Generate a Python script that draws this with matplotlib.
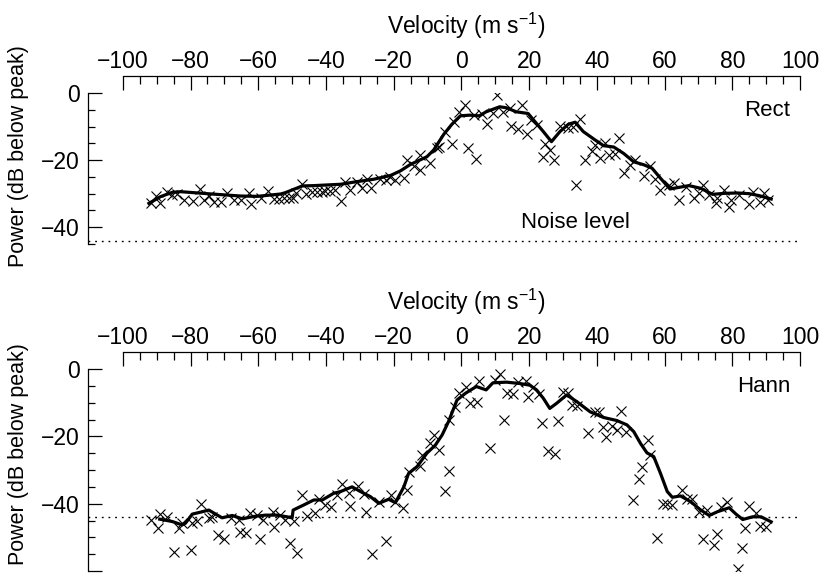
import numpy as np
import matplotlib
matplotlib.use("Agg")
import matplotlib.pyplot as plt
from matplotlib.ticker import FixedLocator

plt.rcParams['font.family'] = ['Liberation Sans', 'DejaVu Sans']
plt.rcParams['mathtext.default'] = 'regular'
plt.rcParams['font.size'] = 16.5

# noise floor (dB below peak)
noise_level = -44

# ---- Rect window: measured points
rect_v = [-91.8, -90.3, -88.9, -86.9, -85.4, -83.9, -82.0, -79.2, -77.2, -76.1,
          -74.6, -73.1, -71.1, -69.2, -67.2, -65.2, -62.8, -62.0, -59.3, -57.2,
          -55.4, -53.9, -52.5, -51.0, -49.7, -49.0, -47.0, -45.8, -44.1, -42.6,
          -41.1, -40.2, -38.7, -37.2, -35.7, -34.3, -32.8, -30.8, -29.5, -27.9,
          -26.6, -23.9, -22.4, -21.0, -19.5, -17.0, -16.1, -14.1, -12.3, -12.1,
          -9.2, -7.3, -6.7, -4.7, -2.8, -2.3, -0.8, 1.0, 2.0, 3.7,
          4.2, 6.0, 7.7, 9.4, 10.4, 12.3, 14.3, 14.6, 16.6, 17.8,
          19.4, 20.7, 22.2, 24.0, 24.7, 26.1, 27.3, 29.1, 31.6, 32.9,
          33.9, 35.0, 36.5, 38.5, 39.5, 41.0, 42.5, 43.5, 45.4, 46.4,
          47.9, 49.9, 51.4, 53.9, 55.8, 57.3, 58.8, 61.3, 62.8, 64.3,
          66.2, 68.7, 70.2, 71.5, 73.2, 75.1, 75.6, 77.6, 79.1, 79.6,
          82.1, 84.8, 86.0, 88.3, 89.3, 90.5]
rect_p = [-32.9, -30.7, -32.9, -29.6, -30.4, -30.2, -31.9, -32.2, -28.6, -31.9,
          -30.7, -32.6, -32.6, -29.9, -31.9, -31.9, -29.9, -33.2, -31.4, -29.2,
          -31.6, -31.6, -31.4, -31.4, -31.4, -29.9, -27.2, -30.2, -29.4, -29.4,
          -29.6, -29.2, -29.2, -28.9, -32.1, -26.6, -28.9, -26.4, -28.4, -25.6,
          -28.4, -25.6, -25.9, -24.9, -25.9, -25.4, -20.0, -21.9, -22.9, -18.5,
          -21.0, -16.5, -16.0, -11.5, -15.3, -8.5, -5.6, -3.6, -16.5, -6.6,
          -19.8, -6.4, -9.3, -6.1, -0.5, -5.6, -4.6, -9.7, -10.8, -3.6,
          -12.2, -8.0, -9.5, -19.0, -15.3, -17.0, -20.0, -9.7, -10.5, -10.0,
          -27.4, -7.7, -20.0, -17.3, -15.5, -19.5, -15.0, -18.5, -18.3, -13.5,
          -23.9, -21.6, -20.0, -24.6, -21.9, -25.7, -28.9, -27.4, -26.9, -31.9,
          -27.9, -31.4, -29.9, -27.4, -30.4, -32.9, -31.4, -28.9, -33.9, -31.9,
          -30.4, -33.2, -29.6, -32.4, -29.9, -31.9]

# ---- Rect window: smoothed curve
rect_line_v = [-92.3, -88.9, -85.4, -83.0, -75.1, -65.2, -60.3, -53.4, -52.0, -47.0,
               -43.6, -35.7, -30.8, -25.9, -21.0, -18.0, -15.1, -10.2, -8.2, -5.2,
               -2.8, -0.3, 2.4, 5.3, 7.3, 11.3, 13.3, 16.2, 19.7, 21.7,
               24.2, 26.6, 29.1, 31.6, 33.6, 36.0, 39.5, 42.0, 45.0, 47.9,
               50.9, 53.9, 56.3, 58.8, 61.6, 63.8, 67.2, 70.7, 74.2, 77.6,
               81.6, 85.0, 88.0, 91.5]
rect_line_p = [-32.9, -30.9, -29.6, -29.4, -30.0, -30.7, -30.8, -30.1, -29.7, -27.7,
               -27.6, -27.2, -26.4, -25.7, -24.6, -23.2, -21.3, -19.0, -17.0, -12.3,
               -9.3, -6.8, -6.6, -6.8, -5.6, -4.1, -4.4, -5.6, -6.1, -8.5,
               -11.5, -14.5, -11.5, -9.3, -8.7, -11.5, -14.0, -15.7, -16.1, -18.0,
               -20.5, -21.4, -22.4, -25.4, -28.6, -28.2, -27.6, -28.4, -30.2, -29.9,
               -29.8, -30.0, -30.6, -31.6]

# ---- Hann window: measured points
hann_v = [-91.8, -89.6, -89.1, -86.9, -84.9, -83.4, -82.5, -80.0, -79.5, -78.0,
          -77.0, -74.6, -73.6, -71.9, -70.2, -68.2, -65.7, -65.4, -63.5, -62.3,
          -60.3, -59.5, -58.6, -55.6, -55.4, -53.6, -52.0, -50.7, -49.3, -48.7,
          -47.0, -45.6, -43.1, -42.1, -40.2, -38.5, -36.7, -35.4, -33.3, -32.8,
          -30.6, -28.8, -28.1, -26.4, -24.4, -22.4, -20.8, -19.5, -17.2, -16.1,
          -15.6, -12.3, -11.6, -9.4, -8.2, -6.7, -4.7, -3.8, -3.8, -1.8,
          -0.8, 1.5, 2.5, 4.5, 5.2, 8.4, 9.9, 11.4, 12.6, 13.4,
          15.1, 16.8, 19.1, 19.7, 21.2, 23.0, 23.7, 25.6, 27.6, 28.4,
          30.1, 31.6, 32.7, 34.2, 37.5, 39.5, 40.5, 41.8, 42.8, 44.5,
          45.9, 47.2, 48.7, 50.7, 52.4, 53.4, 55.1, 55.8, 57.8, 59.6,
          60.8, 62.3, 65.2, 66.5, 68.0, 70.2, 71.5, 72.5, 74.5, 75.6,
          76.6, 78.4, 81.6, 82.9, 83.8, 85.0, 87.0, 88.3, 90.0]
hann_p = [-44.9, -47.3, -43.1, -43.9, -54.3, -47.3, -45.6, -53.8, -45.6, -45.0,
          -40.1, -44.2, -44.1, -49.3, -50.6, -44.4, -44.7, -48.5, -48.8, -42.9,
          -43.4, -50.5, -44.9, -42.4, -46.8, -43.4, -44.7, -51.6, -45.0, -54.5,
          -37.4, -43.6, -42.7, -38.7, -40.4, -40.9, -37.4, -34.2, -36.9, -40.6,
          -34.7, -37.2, -42.6, -54.8, -39.4, -51.0, -37.4, -39.4, -41.2, -35.9,
          -30.5, -28.8, -25.5, -22.1, -19.6, -24.1, -36.1, -30.2, -15.1, -11.2,
          -7.0, -5.2, -10.2, -9.7, -3.5, -23.6, -3.3, -1.6, -15.1, -7.0,
          -7.5, -3.8, -3.5, -8.2, -5.2, -7.4, -15.9, -24.3, -25.2, -15.4,
          -6.7, -7.0, -10.7, -11.0, -19.1, -12.9, -12.9, -17.1, -20.3, -16.9,
          -18.1, -12.5, -18.6, -38.9, -32.8, -29.2, -21.1, -25.5, -50.1, -40.1,
          -40.1, -40.4, -35.9, -38.7, -38.7, -42.4, -50.6, -41.9, -52.3, -49.0,
          -40.9, -39.4, -59.5, -53.3, -47.3, -40.7, -42.9, -46.5, -47.0]

# ---- Hann window: smoothed curve
hann_line_v = [-89.1, -85.4, -82.5, -81.5, -79.5, -77.0, -74.6, -72.6, -70.7, -67.7,
               -64.7, -61.3, -57.9, -54.4, -51.5, -50.0, -49.7, -46.6, -43.6, -41.1,
               -37.7, -35.7, -32.3, -29.8, -26.9, -24.4, -21.5, -19.5, -17.0, -15.6,
               -13.1, -10.2, -7.7, -5.7, -3.8, -1.3, 1.2, 4.4, 7.3, 9.3,
               13.3, 17.2, 20.2, 22.2, 24.2, 26.1, 28.1, 31.1, 34.1, 38.0,
               42.0, 45.9, 48.9, 50.9, 52.9, 54.8, 56.8, 58.8, 60.8, 62.3,
               64.7, 67.7, 70.7, 73.2, 75.6, 79.1, 81.1, 83.1, 86.0, 88.5,
               91.5]
hann_line_p = [-44.6, -45.3, -46.3, -45.8, -43.1, -42.5, -41.9, -43.1, -44.2, -43.5,
               -44.5, -43.8, -43.4, -43.4, -43.9, -44.2, -41.9, -40.4, -38.9, -38.9,
               -36.9, -36.4, -35.0, -36.4, -37.9, -39.9, -38.7, -39.7, -35.0, -31.0,
               -29.0, -25.0, -22.6, -19.6, -15.6, -9.2, -7.2, -5.2, -6.2, -4.1,
               -3.9, -4.3, -4.8, -6.2, -8.7, -11.7, -10.2, -7.7, -9.7, -12.7,
               -14.4, -15.3, -16.6, -18.6, -22.1, -24.9, -26.0, -31.0, -36.4, -38.1,
               -37.7, -39.4, -41.9, -43.5, -42.4, -41.2, -43.1, -44.7, -43.9, -43.9,
               -45.4]

vel_ticks = np.arange(-100, 101, 20)
vel_minor = np.arange(-100, 101, 5)

fig = plt.figure(figsize=(8.26, 5.85), dpi=100)
ax1 = fig.add_axes([0.1065, 0.5829, 0.8620, 0.2581])
ax2 = fig.add_axes([0.1065, 0.0239, 0.8620, 0.3453])

panels = [
    (ax1, rect_v, rect_p, rect_line_v, rect_line_p, 'Rect', (-45, 0),
     [0, -20, -40], ['0', '\u221220', '\u221240'], 0.885, 0.585),
    (ax2, hann_v, hann_p, hann_line_v, hann_line_p, 'Hann', (-60, 0),
     [0, -20, -40, -60], ['0', '\u221220', '\u221240', ''], 0.915, 0.58),
]

for ax, v, p, lv, lp, name, ylim, yt, ytl, name_y, lab_y in panels:
    ax.plot(v, p, 'x', color='k', ms=6.5, mew=0.8)
    ax.plot(lv, lp, '-', color='k', lw=2.3, solid_joinstyle='round')
    ax.axhline(noise_level, color='k', lw=1.0, ls=(0, (1.3, 3.5)))

    ax.set_xlim(-110.3, 100)
    ax.set_ylim(*ylim)

    for s in ['right', 'bottom']:
        ax.spines[s].set_visible(False)
    ax.spines['top'].set_position(('outward', 12.6))
    ax.spines['top'].set_bounds(-100, 100)
    ax.spines['top'].set_linewidth(0.9)
    ax.spines['left'].set_linewidth(0.9)

    ax.xaxis.tick_top()
    ax.xaxis.set_label_position('top')
    ax.set_xticks(vel_ticks)
    ax.set_xticklabels([('\u2212%d' % -t) if t < 0 else '%d' % t for t in vel_ticks])
    ax.xaxis.set_minor_locator(FixedLocator(vel_minor))
    ax.set_yticks(yt)
    ax.set_yticklabels(ytl)
    ax.yaxis.set_minor_locator(FixedLocator(np.arange(ylim[0], 1, 5)))

    ax.tick_params(axis='x', which='major', direction='in', length=10, width=0.9, pad=1.5)
    ax.tick_params(axis='x', which='minor', direction='in', length=5.5, width=0.9)
    ax.tick_params(axis='y', which='major', direction='in', length=10, width=0.9, pad=6)
    ax.tick_params(axis='y', which='minor', direction='in', length=5, width=0.9)

    ax.set_xlabel('Velocity (m s$^{\u22121}$)', labelpad=12)
    ax.xaxis.label.set_x(0.531)
    ax.set_ylabel('Power (dB below peak)', fontsize=15.5)
    ax.yaxis.set_label_coords(-0.083, lab_y)

    ax.text(0.986, name_y, name, transform=ax.transAxes, ha='right', va='center',
            fontsize=16)

ax1.text(0.685, 0.14, 'Noise level', transform=ax1.transAxes, ha='center', va='center',
         fontsize=16)

fig.savefig('out.png', dpi=100)
